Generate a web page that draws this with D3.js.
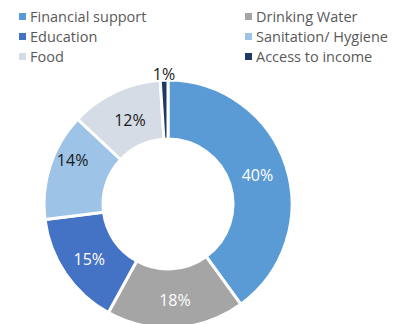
<!DOCTYPE html>
<html lang="en">
<head>
  <meta charset="UTF-8">
  <title>Support donut</title>
  <style>
    body { margin: 0; background: #fff; font-family: "Open Sans", sans-serif; }
    svg { display: block; }
  </style>
</head>
<body>
  <svg id="chart" width="394" height="324"></svg>

  <script src="https://d3js.org/d3.v7.min.js"></script>
  <script>
    const categories = ["Financial support", "Drinking Water", "Education", "Sanitation/ Hygiene", "Food", "Access to income"];
    const values = [40, 18, 15, 14, 12, 1];
    const colors = ["#5b9bd5", "#a5a5a5", "#4472c4", "#9dc3e6", "#d6dce5", "#203864"];
    const labelColors = ["#fff", "#fff", "#fff", "#1a1a1a", "#1a1a1a", "#1a1a1a"];
    // small nudges, like labels dragged by hand in the original
    const labelShift = [[0, 0], [1, 3], [-1, 3], [-6, -15], [2, 1], [0, 0]];

    const svg = d3.select("#chart");
    const cx = 168, cy = 204;
    const outerR = 124, innerR = 65;

    const pie = d3.pie().sort(null).value(d => d)(values);
    const arc = d3.arc().innerRadius(innerR).outerRadius(outerR);
    const labelArc = d3.arc().innerRadius(94).outerRadius(94);
    const outArc = d3.arc().innerRadius(130).outerRadius(130);

    const g = svg.append("g").attr("transform", `translate(${cx},${cy})`);

    g.selectAll("path")
      .data(pie)
      .join("path")
      .attr("d", arc)
      .attr("fill", (d, i) => colors[i])
      .attr("stroke", "#fff")
      .attr("stroke-width", 3);

    g.selectAll("text")
      .data(pie)
      .join("text")
      .attr("transform", (d, i) => {
        // the tiny slice gets its label outside the ring
        const p = values[i] < 3 ? outArc.centroid(d) : labelArc.centroid(d);
        return `translate(${p[0] + labelShift[i][0]},${p[1] + labelShift[i][1]})`;
      })
      .attr("text-anchor", "middle")
      .attr("dy", "0.35em")
      .attr("font-size", "16px")
      .attr("fill", (d, i) => labelColors[i])
      .text(d => d.data + "%");

    // legend, two columns
    const legend = svg.append("g");
    const item = legend.selectAll("g")
      .data(categories)
      .join("g")
      .attr("transform", (d, i) => `translate(${i % 2 ? 245 : 19},${17 + Math.floor(i / 2) * 20})`);

    item.append("rect")
      .attr("x", 0).attr("y", -4)
      .attr("width", 7).attr("height", 7)
      .attr("fill", (d, i) => colors[i]);

    item.append("text")
      .attr("x", 11)
      .attr("dy", "0.35em")
      .attr("font-size", "14.5px")
      .attr("fill", "#595959")
      .text(d => d);
  </script>
</body>
</html>
